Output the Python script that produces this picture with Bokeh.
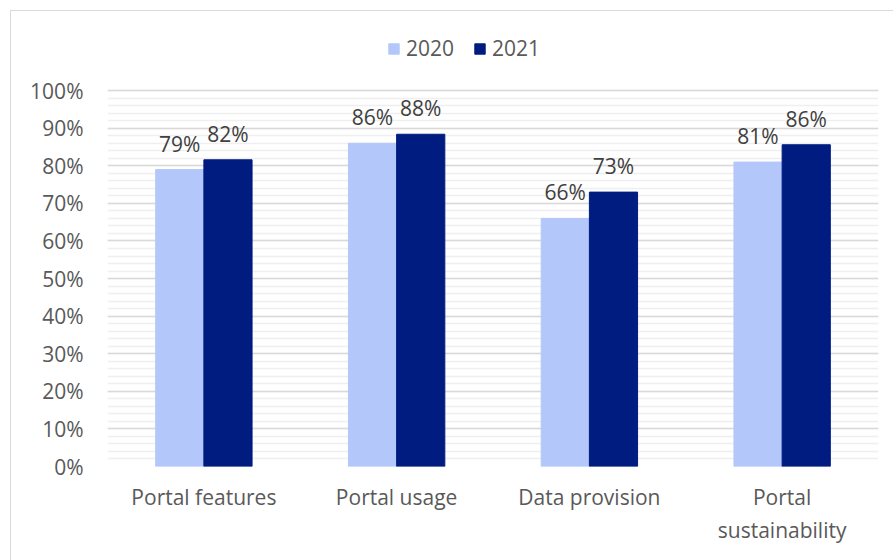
from bokeh.plotting import figure
from bokeh.models import (ColumnDataSource, FactorRange, Range1d, NumeralTickFormatter,
                          SingleIntervalTicker, Legend, LegendItem)
from bokeh.transform import dodge
from bokeh.core.properties import value
from bokeh.embed import file_html
from bokeh.resources import INLINE

categories = ["Portal features", "Portal usage", "Data provision", "Portal\nsustainability"]
values_2020 = [0.79, 0.86, 0.66, 0.81]
values_2021 = [0.816, 0.884, 0.73, 0.856]
series_names = ["2020", "2021"]

FONT = "Open Sans"
TXT = "#595959"
C2020 = "#B4C7FA"
C2021 = "#001C80"

src = ColumnDataSource(dict(
    cat=categories,
    v2020=values_2020,
    v2021=values_2021,
    l2020=[f"{round(v * 100)}%" for v in values_2020],
    l2021=[f"{round(v * 100)}%" for v in values_2021],
))

# frame spans from y=30 (page) to y=465 (0%), with 100% at y=90
p = figure(x_range=FactorRange(*categories, range_padding=0), y_range=Range1d(0, 1.16),
           width=883, height=550, output_backend="svg", toolbar_location=None,
           min_border_left=96, min_border_top=19, min_border_right=16, min_border_bottom=95,
           margin=(10, 0, 0, 10))
p.styles = {"border-top": "1px solid #D9D9D9", "border-left": "1px solid #D9D9D9"}
p.outline_line_color = None
p.background_fill_color = "white"
p.border_fill_color = "white"

r1 = p.vbar(x=dodge("cat", -0.125, range=p.x_range), top="v2020", width=0.25, source=src,
            fill_color=C2020, line_color=C2020)
r2 = p.vbar(x=dodge("cat", 0.125, range=p.x_range), top="v2021", width=0.25, source=src,
            fill_color=C2021, line_color=C2021)

for off, ycol, col in [(-0.125, "v2020", "l2020"), (0.125, "v2021", "l2021")]:
    p.text(x=dodge("cat", off, range=p.x_range), y=ycol,
           text=col, source=src, text_align="center", text_baseline="alphabetic",
           y_offset=-26, text_font=value(FONT), text_font_size="21px", text_color="#404040")

# axes
p.yaxis.ticker = SingleIntervalTicker(interval=0.1, num_minor_ticks=5)
p.yaxis.formatter = NumeralTickFormatter(format="0%")
p.yaxis.bounds = (0, 1)
for ax in (p.xaxis[0], p.yaxis[0]):
    ax.axis_line_color = None
    ax.major_tick_line_color = None
    ax.minor_tick_line_color = None
    ax.major_tick_out = 0
    ax.major_tick_in = 0
    ax.minor_tick_out = 0
    ax.major_label_text_font = FONT
    ax.major_label_text_font_size = "21px"
    ax.major_label_text_color = TXT
p.yaxis.major_label_standoff = 24
p.xaxis.major_label_standoff = 16

p.xgrid.grid_line_color = None
p.ygrid.bounds = (0, 1)
p.ygrid.grid_line_color = "#D9D9D9"
p.ygrid.grid_line_width = 1.5
p.ygrid.minor_grid_line_color = "#EFEFEF"
p.ygrid.minor_grid_line_width = 1.5

legend = Legend(items=[LegendItem(label=series_names[0], renderers=[r1]),
                       LegendItem(label=series_names[1], renderers=[r2])],
                orientation="horizontal", location=(280, 404),
                glyph_width=13, glyph_height=13, label_standoff=6, spacing=19,
                padding=0, margin=0, border_line_color=None, background_fill_alpha=0,
                label_text_font=FONT, label_text_font_size="21px", label_text_color=TXT,
                label_height=20)
p.add_layout(legend, "center")

open("out.html", "w").write(file_html(p, INLINE))
